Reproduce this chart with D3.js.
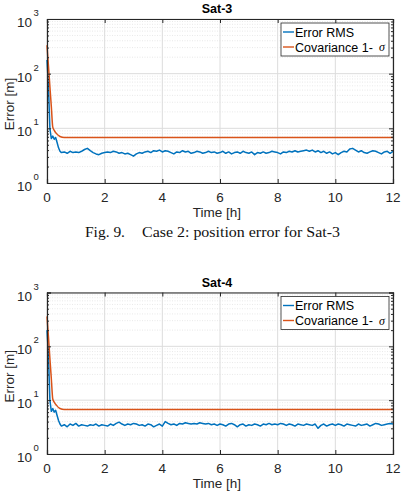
<!DOCTYPE html>
<html>
<head>
<meta charset="utf-8">
<script src="https://cdn.jsdelivr.net/npm/d3@7"></script>
<style>
  body { margin: 0; background: #fff; }
  svg { display: block; }
</style>
</head>
<body>
<script>
// time samples [h] for the Error RMS curves
const times = [0, 0.05, 0.1, 0.15, 0.2, 0.25, 0.3, 0.35, 0.4, 0.45,
  0.5, 0.6, 0.7, 0.8, 0.9, 1.0,
  1.1, 1.2, 1.3, 1.4, 1.5, 1.6, 1.7, 1.8, 1.9, 2.0,
  2.1, 2.2, 2.3, 2.4, 2.5, 2.6, 2.7, 2.8, 2.9, 3.0,
  3.1, 3.2, 3.3, 3.4, 3.5, 3.6, 3.7, 3.8, 3.9, 4.0,
  4.1, 4.2, 4.3, 4.4, 4.5, 4.6, 4.7, 4.8, 4.9, 5.0,
  5.1, 5.2, 5.3, 5.4, 5.5, 5.6, 5.7, 5.8, 5.9, 6.0,
  6.1, 6.2, 6.3, 6.4, 6.5, 6.6, 6.7, 6.8, 6.9, 7.0,
  7.1, 7.2, 7.3, 7.4, 7.5, 7.6, 7.7, 7.8, 7.9, 8.0,
  8.1, 8.2, 8.3, 8.4, 8.5, 8.6, 8.7, 8.8, 8.9, 9.0,
  9.1, 9.2, 9.3, 9.4, 9.5, 9.6, 9.7, 9.8, 9.9, 10.0,
  10.1, 10.2, 10.3, 10.4, 10.5, 10.6, 10.7, 10.8, 10.9, 11.0,
  11.1, 11.2, 11.3, 11.4, 11.5, 11.6, 11.7, 11.8, 11.9, 12.0];

const rmsSat3 = [178, 60, 10, 6.5, 7.2, 6.3, 6.8, 5.5, 4.4, 3.8,
  3.6, 3.7, 3.5, 3.8, 3.6, 3.7,
  3.6, 3.8, 4.1, 4.3, 3.9, 3.6, 3.4, 3.3, 3.5, 3.6,
  3.7, 3.6, 3.8, 3.7, 3.5, 3.6, 3.4, 3.5, 3.3, 3.1,
  3.4, 3.6, 3.5, 3.7, 3.8, 3.6, 3.9, 3.8, 4.0, 3.7,
  3.9, 3.8, 3.6, 3.4, 3.7, 3.6, 3.9, 3.7, 3.8, 3.5,
  3.6, 3.8, 3.7, 3.5, 3.6, 3.8, 3.6, 3.7, 3.5, 3.6,
  3.8, 3.5, 3.7, 3.4, 3.6, 3.7, 3.5, 3.8, 3.6, 3.5,
  3.7, 3.3, 3.6, 3.5, 3.7, 3.5, 3.6, 3.8, 3.7, 3.6,
  3.4, 3.7, 3.6, 3.8, 3.7, 3.9, 3.7, 3.8, 3.9, 4.0,
  3.8, 4.0, 3.7, 3.9, 3.6, 3.8, 3.5, 3.7, 3.4, 3.6,
  3.3, 3.6, 3.8, 3.7, 4.2, 4.3, 4.0, 3.7, 3.9, 3.6,
  3.5, 3.7, 3.9, 3.8, 3.6, 3.4, 3.7, 3.8, 3.5, 3.8];

const rmsSat4 = [200, 70, 10, 6.2, 7.0, 6.0, 6.5, 5.2, 4.2, 3.6,
  3.3, 3.5, 3.2, 3.6, 3.4, 3.7,
  3.3, 3.5, 3.4, 3.3, 3.5, 3.4, 3.6, 3.3, 3.5, 3.4,
  3.3, 3.6, 3.4, 3.7, 3.9, 3.6, 3.4, 3.6, 3.5, 3.7,
  3.6, 3.4, 3.5, 3.3, 3.6, 3.5, 3.2, 3.4, 3.6, 3.3,
  4.0, 3.7, 3.5, 3.6, 3.4, 3.7, 3.6, 3.8, 3.7, 3.6,
  3.7, 3.6, 3.8, 3.7, 3.6, 3.7, 3.5, 3.6, 3.4, 3.6,
  3.5, 3.3, 3.6, 3.7, 3.5, 3.2, 3.5, 3.6, 3.3, 3.5,
  3.4, 3.6, 3.5, 3.3, 3.6, 3.5, 3.7, 3.5, 3.6, 3.5,
  3.7, 3.6, 3.4, 3.6, 3.5, 3.3, 3.6, 3.5, 3.4, 3.6,
  3.5, 3.4, 3.6, 3.0, 3.4, 3.6, 3.3, 3.5, 3.6, 3.4,
  3.6, 3.5, 3.3, 3.6, 3.5, 3.4, 3.3, 3.6, 3.4, 3.5,
  3.6, 3.3, 3.5, 3.7, 3.6, 3.4, 3.5, 3.6, 3.7, 3.6];

// covariance 1-sigma curves
const covTimes = [0, 0.05, 0.1, 0.15, 0.2, 0.25, 0.33, 0.45, 0.6, 12];
const covSat3 = [330, 140, 58, 25, 10.5, 9.2, 8.0, 7.1, 6.8, 6.8];
const covSat4 = [360, 150, 60, 25, 10.5, 9.2, 8.0, 7.0, 6.7, 6.7];

const xTicks = [0, 2, 4, 6, 8, 10, 12];
const yTicks = [1, 10, 100, 1000];
const titles = ['Sat-3', 'Sat-4'];
const seriesNames = ['Error RMS', 'Covariance 1-'];
const caption = ['Fig. 9.', 'Case 2: position error for Sat-3'];

const W = 403, H = 503;
const blue = '#0072bd', orange = '#d95319', ink = '#262626';
const sans = "'Liberation Sans', Arial, Helvetica, sans-serif";

const svg = d3.select('body').append('svg').attr('width', W).attr('height', H);

const x = d3.scaleLinear().domain([0, 12]);
const minorVals = [];
[1, 10, 100].forEach((d) => { for (let k = 2; k <= 9; k++) minorVals.push(d * k); });

function panel(top, bottom, title, rms, cov, tickY, labelY) {
  const left = 47, right = 393;
  const xs = x.copy().range([left, right]);
  const y = d3.scaleLog().domain([1, 1000]).range([bottom, top]);
  const g = svg.append('g');

  // grid
  const grid = g.append('g');
  grid.selectAll('.minor').data(minorVals).enter().append('line')
    .attr('x1', left).attr('x2', right)
    .attr('y1', (d) => y(d)).attr('y2', (d) => y(d))
    .attr('stroke', '#e3e3e3').attr('stroke-width', 0.8).attr('stroke-dasharray', '1,1.5');
  grid.selectAll('.hmaj').data(yTicks).enter().append('line')
    .attr('x1', left).attr('x2', right)
    .attr('y1', (d) => y(d)).attr('y2', (d) => y(d))
    .attr('stroke', '#dcdcdc').attr('stroke-width', 1);
  grid.selectAll('.vmaj').data(xTicks).enter().append('line')
    .attr('x1', (d) => xs(d)).attr('x2', (d) => xs(d))
    .attr('y1', top).attr('y2', bottom)
    .attr('stroke', '#dcdcdc').attr('stroke-width', 1);

  // curves
  const line = d3.line().x((d) => xs(d[0])).y((d) => y(d[1]));
  g.append('path').datum(times.map((t, i) => [t, rms[i]]))
    .attr('fill', 'none').attr('stroke', blue).attr('stroke-width', 1.5)
    .attr('stroke-linejoin', 'round').attr('d', line);
  g.append('path').datum(covTimes.map((t, i) => [t, cov[i]]))
    .attr('fill', 'none').attr('stroke', orange).attr('stroke-width', 1.5)
    .attr('d', d3.line().curve(d3.curveMonotoneX).x((d) => xs(d[0])).y((d) => y(d[1])));

  // axes (ticks inward, box)
  const axes = g.append('g').attr('color', ink);
  axes.append('g').attr('transform', `translate(0,${bottom})`)
    .call(d3.axisBottom(xs).tickValues(xTicks).tickSize(-4).tickFormat(''));
  axes.append('g').attr('transform', `translate(0,${top})`)
    .call(d3.axisTop(xs).tickValues(xTicks).tickSize(-4).tickFormat(''));
  axes.append('g').attr('transform', `translate(${left},0)`)
    .call(d3.axisLeft(y).tickValues(yTicks).tickSize(-4).tickFormat(''));
  axes.append('g').attr('transform', `translate(${right},0)`)
    .call(d3.axisRight(y).tickValues(yTicks).tickSize(-4).tickFormat(''));
  axes.append('g').attr('transform', `translate(${left},0)`)
    .call(d3.axisLeft(y).tickValues(minorVals).tickSize(-2).tickFormat(''))
    .call((a) => a.select('.domain').remove());
  axes.append('g').attr('transform', `translate(${right},0)`)
    .call(d3.axisRight(y).tickValues(minorVals).tickSize(-2).tickFormat(''))
    .call((a) => a.select('.domain').remove());
  axes.selectAll('.domain').attr('stroke-width', 1.2);

  // tick labels
  g.append('g').selectAll('text').data(xTicks).enter().append('text')
    .attr('x', (d) => xs(d)).attr('y', tickY)
    .attr('text-anchor', 'middle').attr('font-family', sans).attr('font-size', 13.5)
    .attr('fill', ink).text((d) => d);
  const yl = g.append('g').selectAll('g').data(yTicks).enter().append('g');
  yl.append('text').attr('x', 32).attr('y', (d) => y(d) + 8)
    .attr('text-anchor', 'end').attr('font-family', sans).attr('font-size', 13.5)
    .attr('fill', ink).text('10');
  yl.append('text').attr('x', 33.5).attr('y', (d) => y(d) - 3)
    .attr('font-family', sans).attr('font-size', 9.5)
    .attr('fill', ink).text((d) => Math.round(Math.log10(d)));

  // title and labels
  g.append('text').attr('x', (left + right) / 2 - 3).attr('y', top - 6)
    .attr('text-anchor', 'middle').attr('font-family', sans).attr('font-size', 12.5)
    .attr('font-weight', 'bold').attr('fill', '#000').text(title);
  g.append('text').attr('x', (left + right) / 2 - 3).attr('y', labelY)
    .attr('text-anchor', 'middle').attr('font-family', sans).attr('font-size', 13.5)
    .attr('fill', ink).text('Time [h]');
  g.append('text')
    .attr('transform', `translate(14,${(top + bottom) / 2 + 3}) rotate(-90)`)
    .attr('text-anchor', 'middle').attr('font-family', sans).attr('font-size', 13.5)
    .attr('fill', ink).text('Error [m]');

  // legend
  const lg = g.append('g').attr('transform', `translate(281,${top + 4})`);
  lg.append('rect').attr('width', 108).attr('height', 33)
    .attr('fill', '#fff').attr('stroke', ink).attr('stroke-width', 0.8);
  [blue, orange].forEach((c, i) => {
    const yy = 9 + i * 15;
    lg.append('line').attr('x1', 2).attr('x2', 13).attr('y1', yy).attr('y2', yy)
      .attr('stroke', c).attr('stroke-width', 1.4);
    lg.append('text').attr('x', 14).attr('y', yy + 4.5)
      .attr('font-family', sans).attr('font-size', 12.5).attr('fill', '#000')
      .text(seriesNames[i]);
  });
  lg.append('text').attr('x', 98).attr('y', 28)
    .attr('font-family', "'Liberation Serif', serif").attr('font-style', 'italic')
    .attr('font-size', 12).attr('fill', '#000').text('σ');
}

panel(19, 183, titles[0], rmsSat3, covSat3, 201.5, 216.5);
panel(292.5, 454, titles[1], rmsSat4, covSat4, 473, 488);

// figure caption between the panels
const serif = "'Liberation Serif', 'Times New Roman', serif";
svg.append('text').attr('x', 85).attr('y', 236.5).attr('font-family', serif)
  .attr('font-size', 14).attr('fill', '#111')
  .attr('textLength', 40).attr('lengthAdjust', 'spacingAndGlyphs').text(caption[0]);
svg.append('text').attr('x', 142).attr('y', 236.5).attr('font-family', serif)
  .attr('font-size', 14).attr('fill', '#111')
  .attr('textLength', 198).attr('lengthAdjust', 'spacingAndGlyphs').text(caption[1]);
</script>
</body>
</html>
